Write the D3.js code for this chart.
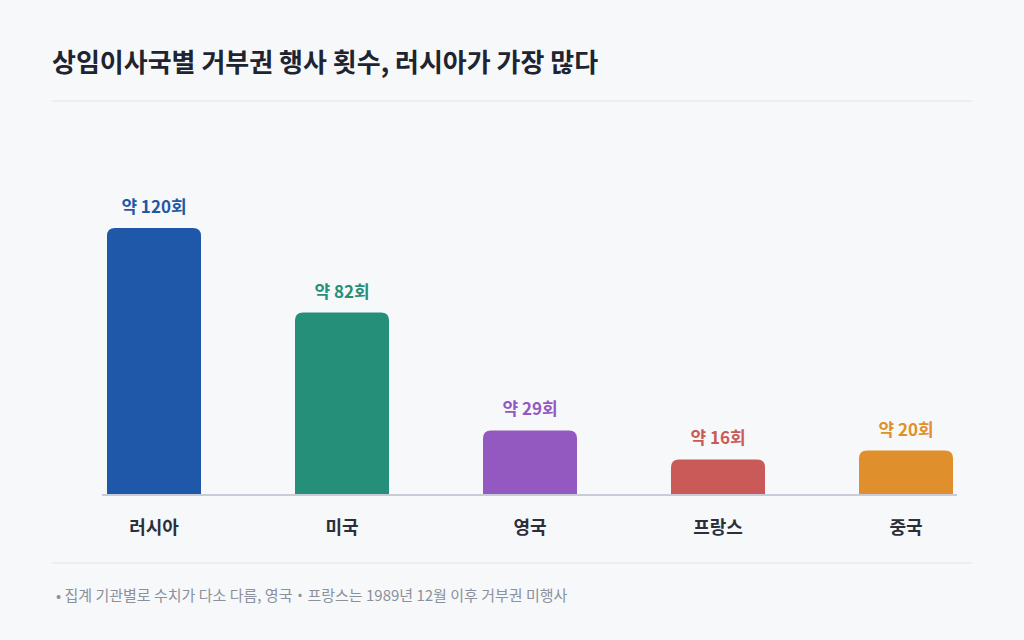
<!DOCTYPE html><html><head><meta charset="utf-8">
<script src="https://cdn.jsdelivr.net/npm/d3@7/dist/d3.min.js"></script>
<style>body{margin:0;background:#f7f8fa;font-family:"Noto Sans CJK KR","Noto Sans",sans-serif}</style></head><body>
<svg id="c" width="1024" height="640"></svg>
<script>
const categories=["러시아","미국","영국","프랑스","중국"];
const values=[120,82,29,16,20];
const labels=["약 120회","약 82회","약 29회","약 16회","약 20회"];
const colors=["#1f58a8","#268f7a","#9459c1","#c95a58","#df8f2b"];
const svg=d3.select("#c");
svg.append("rect").attr("width",1024).attr("height",640).attr("fill","#f7f8fa");
svg.append("text").attr("x",52).attr("y",72).attr("font-size",26).attr("font-weight",700).attr("fill","#1e2430").text("상임이사국별 거부권 행사 횟수, 러시아가 가장 많다");
svg.append("line").attr("x1",52).attr("x2",972).attr("y1",101).attr("y2",101).attr("stroke","#e1e4ea");
const x=d3.scaleBand().domain(categories).range([60,1000]).paddingInner(0.5).paddingOuter(0.25);
const y=d3.scaleLinear().domain([0,120]).range([495,228]);
categories.forEach((c,i)=>{
  const h=y(0)-y(values[i]);
  svg.append("path").attr("fill",colors[i]).attr("d",()=>{
    const x0=x(c),w=x.bandwidth(),t=y(values[i]),b=y(0),r=8;
    return `M${x0},${b}V${t+r}Q${x0},${t} ${x0+r},${t}H${x0+w-r}Q${x0+w},${t} ${x0+w},${t+r}V${b}Z`;});
  svg.append("text").attr("x",x(c)+x.bandwidth()/2).attr("y",y(values[i])-15).attr("text-anchor","middle")
    .attr("font-size",17).attr("font-weight",700).attr("fill",colors[i]).text(labels[i]);
  svg.append("text").attr("x",x(c)+x.bandwidth()/2).attr("y",534).attr("text-anchor","middle")
    .attr("font-size",18).attr("font-weight",700).attr("fill","#2a2f3a").text(c);
});
svg.append("line").attr("x1",102).attr("x2",957).attr("y1",495).attr("y2",495).attr("stroke","#c9ccd6").attr("stroke-width",2);
svg.append("line").attr("x1",52).attr("x2",972).attr("y1",563).attr("y2",563).attr("stroke","#e1e4ea");
svg.append("text").attr("x",56).attr("y",601).attr("font-size",15).attr("fill","#8a909c").text("•  집계 기관별로 수치가 다소 다름, 영국・프랑스는 1989년 12월 이후 거부권 미행사");
</script></body></html>
